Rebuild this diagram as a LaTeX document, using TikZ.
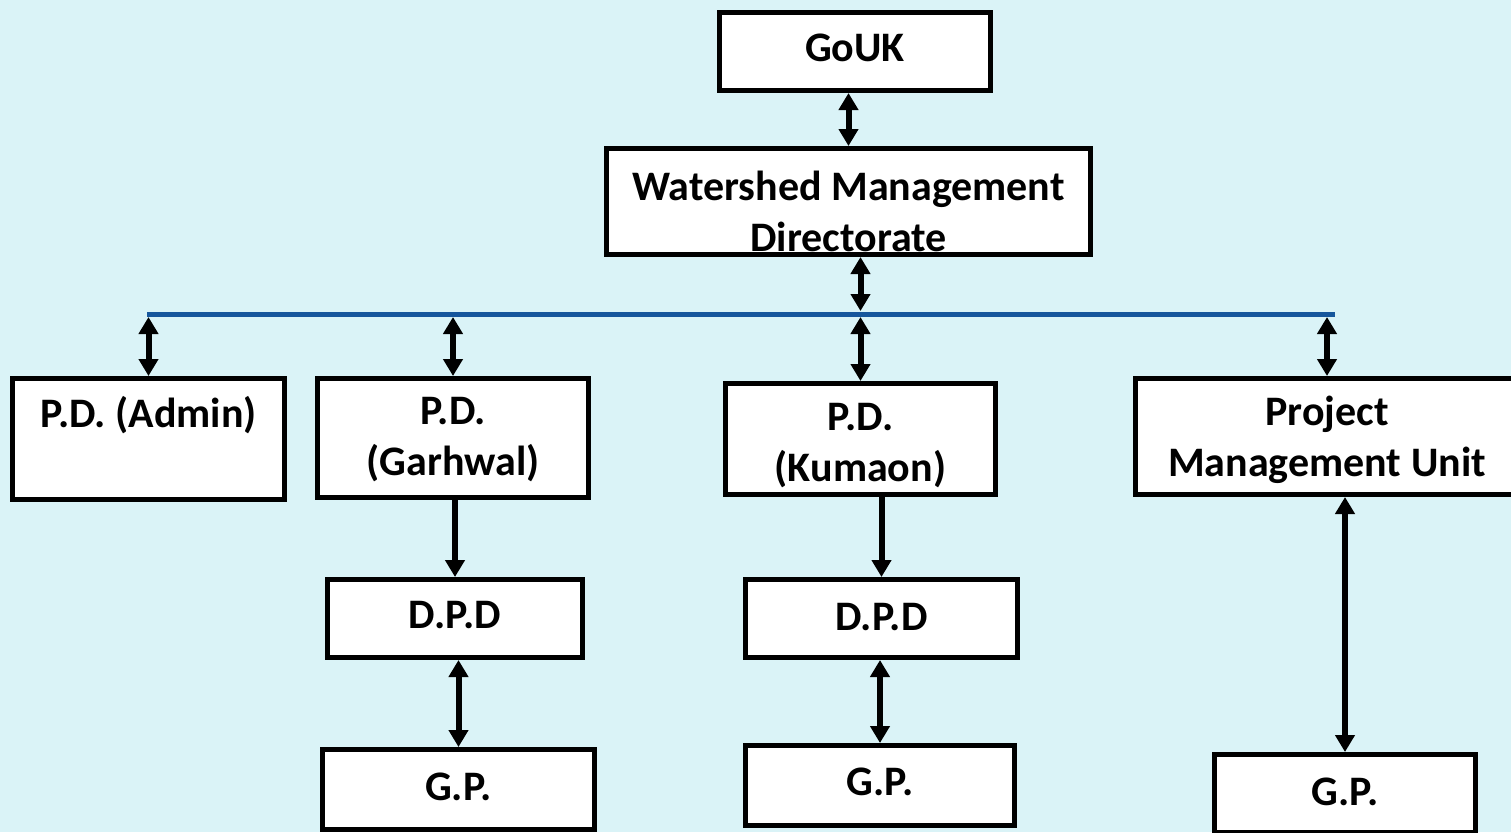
\documentclass[tikz,border=0pt]{standalone}
\usepackage{fontspec}
\setmainfont{Carlito}
\usetikzlibrary{arrows.meta}
\definecolor{fond}{RGB}{218,243,247}
\definecolor{bleu}{RGB}{22,86,156}

\begin{document}
\begin{tikzpicture}[x=0.5pt, y=-0.5pt,
    box/.style={draw, fill=white, line width=2.5pt, inner sep=0pt},
    txt/.style={font=\fontsize{21}{25.5}\selectfont\bfseries, align=center},
    link/.style={line width=3pt, >={Triangle[length=8.5pt,width=9.5pt]}}]
    \fill[fond] (0,0) rectangle (1511,832);
    \useasboundingbox (0,0) rectangle (1511,832);
    \clip (0,0) rectangle (1511,832);

    % Direction
    \node[box, minimum width=135.5pt, minimum height=39pt] (gouk) at (855,51.5) {};
    \node[txt] (gouk-t) at (855,48) {GoUK};
    \node[box, minimum width=242pt, minimum height=53pt] (wmd) at (848.5,201.5) {};
    \node[txt] (wmd-t) at (848.5,211) {Watershed Management\\Directorate};

    % Ligne de repartition
    \coordinate (busL) at (147,314);
    \coordinate (busR) at (1335,314);
    \coordinate (busT) at (0,311);
    \coordinate (busB) at (0,317);
    \draw[bleu, line width=2.5pt] (busL) -- (busR);

    % Projets
    \node[box, minimum width=136pt, minimum height=60.5pt] (admin) at (148.5,439) {};
    \node[txt] (admin-t) at (148.5,415) {P.D. (Admin)};
    \node[box, minimum width=135.5pt, minimum height=59.5pt] (garh) at (453,438) {};
    \node[txt] (garh-t) at (453,440) {P.D.\\(Garhwal)};
    \node[box, minimum width=135pt, minimum height=55.5pt] (kum) at (860.5,439) {};
    \node[txt] (kum-t) at (860.5,445.5) {P.D.\\(Kumaon)};
    \node[box, minimum width=191.5pt, minimum height=58pt] (pmu) at (1327,436.5) {};
    \node[txt] (pmu-t) at (1327,439.5) {Project\\Management Unit};

    % D.P.D et G.P.
    \node[box, minimum width=127.5pt, minimum height=39pt] (dpdg) at (455,618.5) {};
    \node[txt] (dpdg-t) at (455,615) {D.P.D};
    \node[box, minimum width=136pt, minimum height=39pt] (dpdk) at (881.5,618.5) {};
    \node[txt] (dpdk-t) at (881.5,617) {D.P.D};
    \node[box, minimum width=136pt, minimum height=40pt] (gpg) at (458.5,789.5) {};
    \node[txt] (gpg-t) at (458.5,787) {G.P.};
    \node[box, minimum width=134.5pt, minimum height=40pt] (gpk) at (880,785.5) {};
    \node[txt] (gpk-t) at (880,782) {G.P.};
    \node[box, minimum width=130.5pt, minimum height=39pt] (gpp) at (1345,793.5) {};
    \node[txt] (gpp-t) at (1345,792) {G.P.};

    % Fleches
    \draw[link, <->] (gouk.south -| wmd.north) -- (wmd.north);
    \draw[link, <->] (wmd.south -| kum.north) -- (kum.north |- busT);
    \draw[link, <->] (admin.north |- busB) -- (admin.north);
    \draw[link, <->] (garh.north |- busB) -- (garh.north);
    \draw[link, <->] (kum.north |- busB) -- (kum.north);
    \draw[link, <->] (pmu.north |- busB) -- (pmu.north);
    \draw[link, ->] (garh.south -| dpdg.north) -- (dpdg.north);
    \draw[link, <->] (dpdg.south -| gpg.north) -- (gpg.north);
    \draw[link, ->] (kum.south -| dpdk.north) -- (dpdk.north);
    \draw[link, <->] (dpdk.south -| gpk.north) -- (gpk.north);
    \draw[link, <->] (pmu.south -| gpp.north) -- (gpp.north);
\end{tikzpicture}
\end{document}
